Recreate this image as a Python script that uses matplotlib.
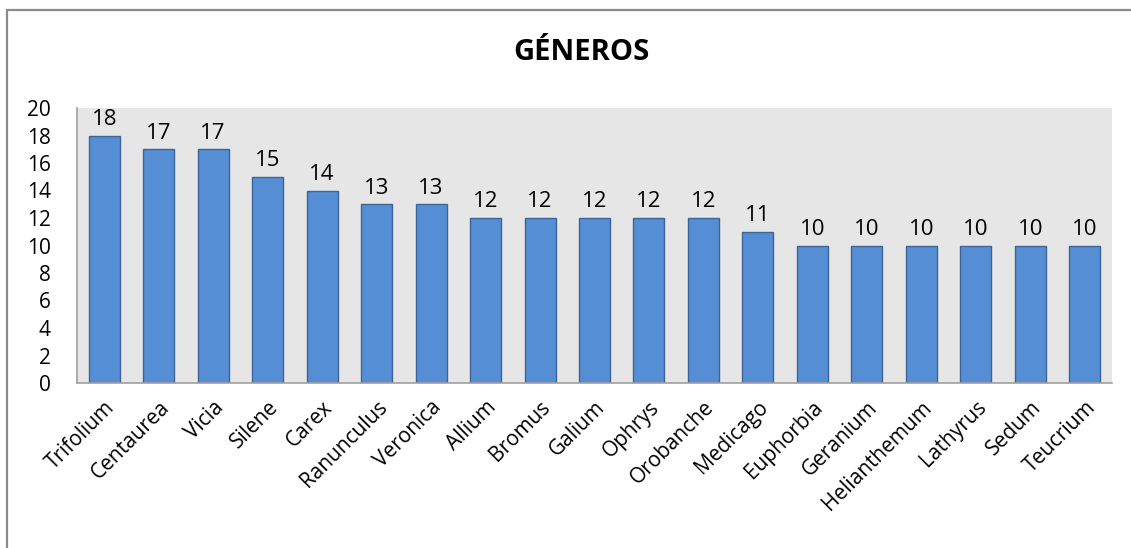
import matplotlib.pyplot as plt
from matplotlib.patches import Rectangle

plt.rcParams['font.family'] = ['Open Sans', 'DejaVu Sans']

generos = ['Trifolium', 'Centaurea', 'Vicia', 'Silene', 'Carex', 'Ranunculus',
           'Veronica', 'Allium', 'Bromus', 'Galium', 'Ophrys', 'Orobanche',
           'Medicago', 'Euphorbia', 'Geranium', 'Helianthemum', 'Lathyrus',
           'Sedum', 'Teucrium']
especies = [18, 17, 17, 15, 14, 13, 13, 12, 12, 12, 12, 12, 11, 10, 10, 10, 10, 10, 10]
yticks = list(range(0, 21, 2))

W, H = 1131, 548
fig = plt.figure(figsize=(W / 100, H / 100), dpi=100)
ax = fig.add_axes([77 / W, 1 - 383 / H, (1112 - 77) / W, (383 - 108) / H])

# outer chart frame (runs off the right and bottom edges)
fig.patches.append(Rectangle((6.5 / W, -0.1), 1.2, 1 - 9.5 / H + 0.1,
                             transform=fig.transFigure, fill=False,
                             edgecolor='#8a8a8a', linewidth=1.6))

ax.set_facecolor('#e6e6e6')
x = range(len(generos))
bars = ax.bar(x, especies, width=0.57, color='#558ed5', edgecolor='#3c6494',
              linewidth=1.0, zorder=2)
ax.bar_label(bars, labels=[str(v) for v in especies], padding=4, fontsize=16)

ax.set_xlim(-0.5, len(generos) - 0.5)
ax.set_ylim(0, 20)
ax.set_yticks(yticks)
ax.tick_params(axis='y', length=0, pad=19, labelsize=15)
ax.tick_params(axis='x', length=0, pad=10, labelsize=15)
ax.set_xticks(list(x))
ax.set_xticklabels(generos, rotation=45, ha='right', rotation_mode='anchor')

for s in ('top', 'right'):
    ax.spines[s].set_visible(False)
for s in ('left', 'bottom'):
    ax.spines[s].set_color('#a0a0a0')
    ax.spines[s].set_linewidth(1.2)

fig.text(581 / W, 1 - 53 / H, 'GÉNEROS', ha='center', va='center',
         fontsize=21, fontweight='bold')

fig.savefig('out.png', dpi=100, facecolor='white')
